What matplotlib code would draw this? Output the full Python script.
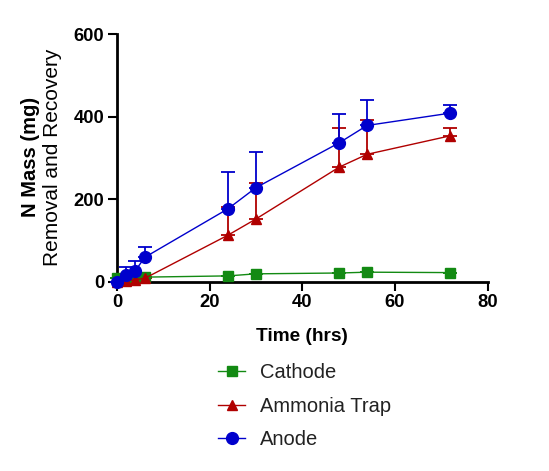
import matplotlib
matplotlib.use("Agg")
import matplotlib.pyplot as plt

plt.rcParams['font.family'] = ['Liberation Sans', 'DejaVu Sans']

# time points (hrs)
time_hrs = [0, 2, 4, 6, 24, 30, 48, 54, 72]

# N mass (mg), mean and upper error (SD)
cathode = [10, 9, 10, 11, 14, 19, 21, 23, 22]
cathode_err = [0, 0, 0, 0, 0, 0, 0, 0, 0]

ammonia = [0, 2, 5, 8, 113, 152, 278, 309, 354]
ammonia_err = [0, 0, 0, 0, 67, 87, 94, 84, 19]

anode = [0, 16, 27, 59, 177, 228, 337, 379, 409]
anode_err = [0, 20, 24, 26, 89, 87, 71, 61, 19]

series = [
    ("Cathode", cathode, cathode_err, "s", "#138a13", 7),
    ("Ammonia Trap", ammonia, ammonia_err, "^", "#b00000", 7.5),
    ("Anode", anode, anode_err, "o", "#0000cc", 8.5),
]

fig = plt.figure(figsize=(5.49, 4.71), dpi=100)
ax = fig.add_axes([0.213, 0.402, 0.675, 0.525])

handles = []
for name, vals, err, mk, col, ms in series:
    ax.errorbar(time_hrs, vals, yerr=[[0] * len(err), err], fmt="none",
                ecolor=col, elinewidth=1.3, capsize=5, capthick=1.3, zorder=2)
    h, = ax.plot(time_hrs, vals, marker=mk, color=col, markersize=ms,
                 linewidth=1, label=name, zorder=3)
    handles.append(h)

ax.set_xlim(0, 80)
ax.set_ylim(0, 600)
ax.set_xticks([0, 20, 40, 60, 80])
ax.set_yticks([0, 200, 400, 600])
for s in ["top", "right"]:
    ax.spines[s].set_visible(False)
for s in ["left", "bottom"]:
    ax.spines[s].set_linewidth(2)
ax.tick_params(width=1.5, length=6.5, labelsize=13.2, pad=2.5)
for lab in ax.get_xticklabels() + ax.get_yticklabels():
    lab.set_fontweight("bold")
for a in ax.get_children():
    try:
        a.set_clip_on(False)
    except Exception:
        pass

ax.set_xlabel("Time (hrs)", fontsize=13.7, fontweight="bold", labelpad=12)
fig.text(0.055, 0.667, "N Mass (mg)", rotation=90, fontsize=14.5,
         fontweight="bold", ha="center", va="center")
fig.text(0.095, 0.667, "Removal and Recovery", rotation=90, fontsize=15,
         ha="center", va="center")

fig.legend(handles=handles, loc="upper left", bbox_to_anchor=(0.397, 0.229),
           frameon=False, fontsize=14.5, handlelength=1.35, handletextpad=0.75,
           labelspacing=0.72, borderpad=0, borderaxespad=0,
           labelcolor="#222222")

fig.savefig("out.png", dpi=100)
